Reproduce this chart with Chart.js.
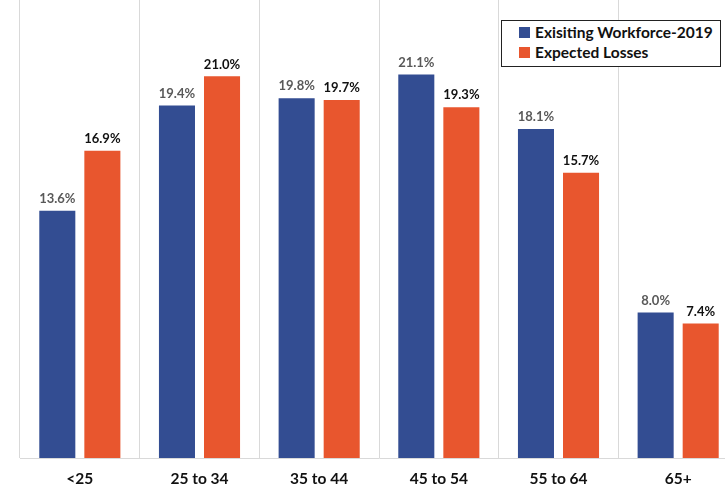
<!DOCTYPE html>
<html>
<head>
<meta charset="utf-8">
<script src="https://cdn.jsdelivr.net/npm/chart.js@4"></script>
<style>
  html, body { margin: 0; padding: 0; background: #fff; overflow: hidden; width: 725px; height: 488px; }
  #wrap { position: relative; width: 740px; height: 488px; }
  #legend { position: absolute; left: 501px; top: 20px; width: 220px; height: 47px; border: 1.5px solid #222; background: #fff;
    font-family: Lato, "Open Sans", sans-serif; font-weight: bold; font-size: 15.5px; color: #111; box-sizing: border-box; }
  .item { position: absolute; left: 17px; display: flex; align-items: center; white-space: nowrap; }
  .sw { width: 11px; height: 11px; margin-right: 5px; }
</style>
</head>
<body>
<div id="wrap">
  <canvas id="c" width="740" height="488"></canvas>
  <div id="legend"></div>
</div>
<script>
const categories = ["<25", "25 to 34", "35 to 44", "45 to 54", "55 to 64", "65+"];
const seriesNames = ["Exisiting Workforce-2019", "Expected Losses"];
const existing = [13.6, 19.4, 19.8, 21.1, 18.1, 8.0];
const losses = [16.9, 21.0, 19.7, 19.3, 15.7, 7.4];
const colors = ["#334D92", "#E8562E"];
const labelColors = ["#595959", "#111111"];

const legend = document.getElementById('legend');
seriesNames.forEach((n, i) => {
  const d = document.createElement('div');
  d.className = 'item';
  d.style.top = (i === 0 ? 2 : 22) + 'px';
  d.innerHTML = '<span class="sw" style="background:' + colors[i] + '"></span><span>' + n + '</span>';
  legend.appendChild(d);
});

const labelPlugin = {
  id: 'labels',
  afterDatasetsDraw(chart) {
    const ctx = chart.ctx;
    ctx.save();
    ctx.font = 'bold 13px Lato, "Open Sans", sans-serif';
    ctx.textAlign = 'center';
    ctx.textBaseline = 'middle';
    chart.data.datasets.forEach((ds, di) => {
      const meta = chart.getDatasetMeta(di);
      ctx.fillStyle = labelColors[di];
      meta.data.forEach((bar, i) => {
        ctx.fillText(ds.data[i].toFixed(1) + '%', bar.x, bar.y - 12);
      });
    });
    ctx.restore();
  }
};

new Chart(document.getElementById('c'), {
  type: 'bar',
  data: {
    labels: categories,
    datasets: [
      { label: seriesNames[0], data: existing, backgroundColor: colors[0], categoryPercentage: 0.753, barPercentage: 0.8 },
      { label: seriesNames[1], data: losses, backgroundColor: colors[1], categoryPercentage: 0.753, barPercentage: 0.8 }
    ]
  },
  options: {
    responsive: false,
    animation: false,
    layout: { padding: { left: 20, right: 2, top: 0, bottom: 0 } },
    plugins: { legend: { display: false }, tooltip: { enabled: false } },
    scales: {
      x: {
        afterFit(scale) { scale.height = 30; },
        grid: { display: true, offset: true, color: '#d9d9d9', drawTicks: false },
        border: { color: '#d9d9d9', width: 1 },
        ticks: { color: '#111', padding: 12, font: { family: 'Lato, "Open Sans", sans-serif', weight: 'bold', size: 15.5 } }
      },
      y: { display: false, min: 0, max: 25.2 }
    }
  },
  plugins: [labelPlugin]
});
</script>
</body>
</html>
